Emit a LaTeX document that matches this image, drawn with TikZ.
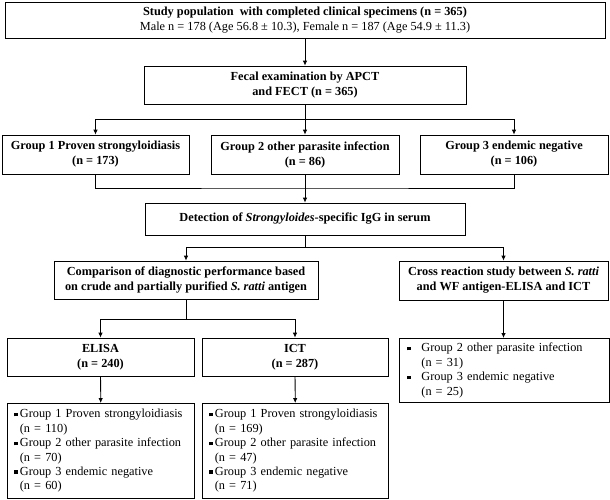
\documentclass[tikz,border=0pt]{standalone}
\usepackage{fontspec}
\setmainfont{Liberation Serif}
\usetikzlibrary{arrows.meta,positioning,calc}
\newcommand{\sqb}{\rule[0.25ex]{0.3em}{0.3em}}
\newcommand{\bitem}[3]{\makebox[#1][l]{\sqb}#2\\\hspace*{#1}#3}

\begin{document}
\begin{tikzpicture}[
  x=1pt,y=-1pt,
  box/.style={draw,line width=0.8pt,align=center,inner sep=2pt,font=\fontsize{12.3}{15}\selectfont\bfseries},
  lst/.style={draw,line width=0.8pt,align=left,anchor=north west,inner xsep=7pt,inner ysep=2pt,font=\fontsize{12.3}{14.4}\selectfont},
  arr/.style={-{Latex[length=5pt,width=4.5pt]},line width=0.8pt},
  ln/.style={line width=0.8pt}
]
  \useasboundingbox (0,0) rectangle (610,499);
  % top of the chart
  \node[box,minimum width=600pt,minimum height=36pt] (study) at (305,20)
    {Study population\ \ with completed clinical specimens (n = 365)\\
     \mdseries Male n = 178 (Age 56.8 ± 10.3), Female n = 187 (Age 54.9 ± 11.3)};
  \node[box,minimum width=322pt,minimum height=38pt] (fecal) at (305,85)
    {Fecal examination by APCT\\and FECT (n = 365)};
  % the three groups
  \node[box,minimum width=187pt,minimum height=39pt] (g1) at (95.5,154.5)
    {Group 1 Proven strongyloidiasis\\(n = 173)};
  \node[box,minimum width=188pt,minimum height=39pt] (g2) at (305,154.5)
    {Group 2 other parasite infection\\(n = 86)};
  \node[box,minimum width=188pt,minimum height=39pt] (g3) at (514,154.5)
    {Group 3 endemic negative\\(n = 106)};
  \node[box,minimum width=320pt,minimum height=32pt] (detect) at (305,219)
    {Detection of \textit{Strongyloides}-specific IgG in serum};
  % the two studies
  \node[box,minimum width=264pt,minimum height=38pt] (comp) at (186,280)
    {Comparison of diagnostic performance based\\on crude and partially purified \textit{S. ratti} antigen};
  \node[box,minimum width=209pt,minimum height=39pt] (cross) at (503.5,280.5)
    {Cross reaction study between \textit{S. ratti}\\and WF antigen-ELISA and ICT};
  \node[box,minimum width=187pt,minimum height=38pt] (elisa) at (100.5,357)
    {ELISA\\(n = 240)};
  \node[box,minimum width=186pt,minimum height=38pt] (ict) at (295,357)
    {ICT\\(n = 287)};
  % result lists
  \node[lst,text width=173pt,minimum height=95pt] (elisalist) at (7,403)
    {\bitem{5.5pt}{Group 1 Proven strongyloidiasis}{(n = 110)}\\
     \bitem{5.5pt}{Group 2 other parasite infection}{(n = 70)}\\
     \bitem{5.5pt}{Group 3 endemic negative}{(n = 60)}};
  \node[lst,text width=172pt,minimum height=95pt] (ictlist) at (202,403)
    {\bitem{5.5pt}{Group 1 Proven strongyloidiasis}{(n = 169)}\\
     \bitem{5.5pt}{Group 2 other parasite infection}{(n = 47)}\\
     \bitem{5.5pt}{Group 3 endemic negative}{(n = 71)}};
  \node[lst,inner xsep=8pt,text width=194pt,minimum height=64pt] (crosslist) at (399,338)
    {\bitem{14pt}{Group 2 other parasite infection}{(n = 31)}\\
     \bitem{14pt}{Group 3 endemic negative}{(n = 25)}};
  % connectors
  \coordinate (gjoin) at (305,188);
  \draw[arr] (study) -- (fecal);
  \draw[arr] (fecal.south) -- ++(0,15) -| (g1.north);
  \draw[arr] (fecal.south) -- (g2.north);
  \draw[arr] (fecal.south) -- ++(0,15) -| (g3.north);
  \draw[ln] (g1.south) |- (gjoin) -| (g3.south);
  \draw[arr] (g2.south) -- (detect.north);
  \draw[arr] (detect.south) -- ++(0,12) -| (comp.north);
  \draw[arr] (detect.south) -- ++(0,12) -| (cross.north);
  \draw[arr] (comp.south) -- ++(0,20) -| (elisa.north);
  \draw[arr] (comp.south) -- ++(0,20) -| (ict.north);
  \draw[arr] (elisa) -- (elisalist);
  \draw[arr] (ict) -- (ictlist);
  \draw[arr] (cross.south) -- (cross.south |- crosslist.north);
\end{tikzpicture}
\end{document}
